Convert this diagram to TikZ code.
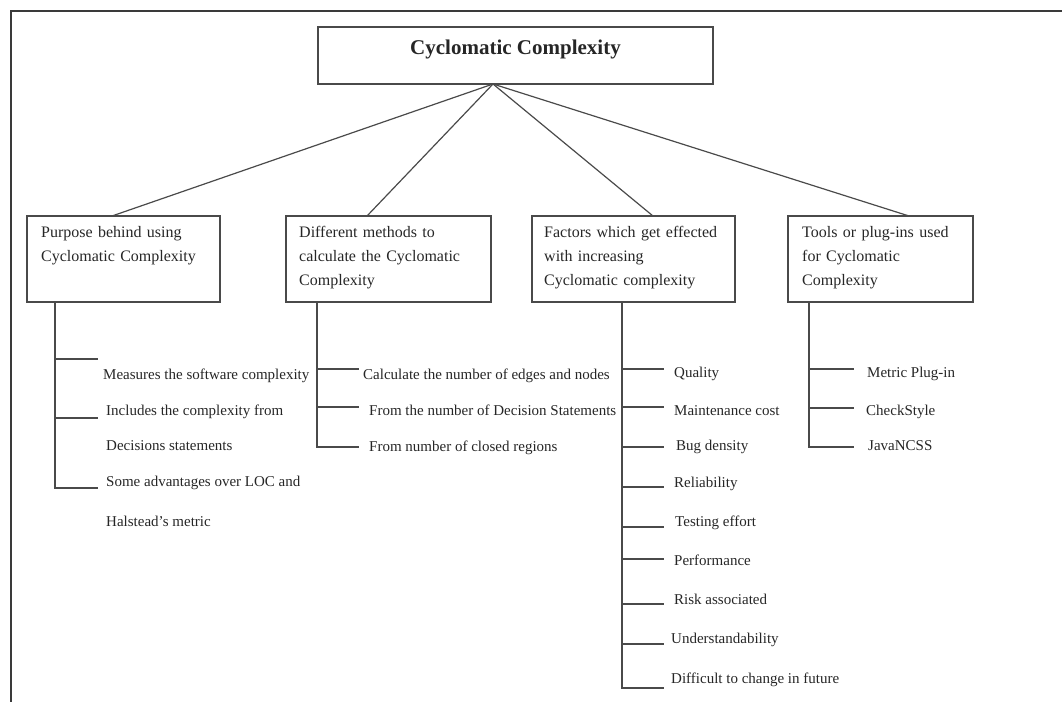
\documentclass[tikz,border=0pt]{standalone}
\usepackage{fontspec}
\setmainfont{Liberation Serif}
\usetikzlibrary{calc}
\definecolor{ln}{HTML}{4A4A4A}
\definecolor{fr}{HTML}{3A3A3A}
\definecolor{tx}{HTML}{262626}
\begin{document}
\begin{tikzpicture}[x=1pt,y=-1pt,
  frameline/.style={draw=fr,line width=2pt},
  catbox/.style={draw=ln,line width=1.4pt,rectangle,inner sep=0pt,outer sep=0pt,minimum height=86pt,anchor=north west},
  boxtext/.style={text=tx,inner sep=0pt,anchor=north west,align=left,text width=185pt,font=\fontsize{16}{24}\selectfont},
  item/.style={text=tx,inner sep=0pt,anchor=west,text height=10pt,text depth=3pt,font=\fontsize{15}{18}\selectfont},
  conn/.style={draw=ln,line width=1.2pt}]
\useasboundingbox (0,0) rectangle (1062,701);
% outer frame (cut off at right and bottom)
\draw[frameline] (11,710) -- (11,11) -- (1070,11);
% top box
\node[catbox,minimum width=395pt,minimum height=57pt] (top) at (318,27) {};
\node[text=tx,inner sep=0pt,anchor=base,font=\fontsize{21}{25}\selectfont\bfseries] (title) at ($(top.north)+(0,28)$) {Cyclomatic Complexity};
% category boxes
\node[catbox,minimum width=193pt] (b1) at (27,216) {};
\node[catbox,minimum width=205pt] (b2) at (286,216) {};
\node[catbox,minimum width=203pt] (b3) at (532,216) {};
\node[catbox,minimum width=185pt] (b4) at (788,216) {};
\node[boxtext] (b1t) at ($(b1.north west)+(14,4.7)$) {\strut Purpose behind using\\Cyclomatic Complexity};
\node[boxtext] (b2t) at ($(b2.north west)+(13,4.7)$) {\strut Different methods to\\calculate the Cyclomatic\\Complexity};
\node[boxtext] (b3t) at ($(b3.north west)+(12,4.7)$) {\strut Factors which get effected\\with increasing\\Cyclomatic complexity};
\node[boxtext] (b4t) at ($(b4.north west)+(14,4.7)$) {\strut Tools or plug-ins used\\for Cyclomatic\\Complexity};
% connectors from the top box
\coordinate (hub) at ($(top.south west)+(175,0)$);
\draw[conn] (hub) -- ($(b1.north west)+(85,0)$);
\draw[conn] (hub) -- ($(b2.north west)+(81,0)$);
\draw[conn] (hub) -- ($(b3.north west)+(121,0)$);
\draw[conn] (hub) -- ($(b4.north west)+(121,0)$);
% trunk and branch-end coordinates
\coordinate (tr1) at ($(b1.south west)+(28,0)$);
\coordinate (e1) at (98,302);
\coordinate (tr2) at ($(b2.south west)+(31,0)$);
\coordinate (e2) at (359,302);
\coordinate (tr3) at ($(b3.south west)+(90,0)$);
\coordinate (e3) at (664,302);
\coordinate (tr4) at ($(b4.south west)+(21,0)$);
\coordinate (e4) at (854,302);
% list 1
\node[item] (p1) at (103,376) {Measures the software complexity};
\node[item] (p2) at (106,412) {Includes the complexity from};
\node[item] (p3) at (106,447) {Decisions statements};
\node[item] (p4) at (106,483) {Some advantages over LOC and};
\node[item] (p5) at (106,523) {Halstead’s metric};
\draw[conn] (tr1) -- ($(p4.west -| tr1)+(0,5)$) -- ($(p4.west -| e1)+(0,5)$);
\draw[conn] ($(p1.west -| tr1)+(0,-17)$) -- ($(p1.west -| e1)+(0,-17)$);
\draw[conn] ($(p2.west -| tr1)+(0,6)$) -- ($(p2.west -| e1)+(0,6)$);
% list 2
\node[item] (m1) at (363,376) {Calculate the number of edges and nodes};
\node[item] (m2) at (369,412) {From the number of Decision Statements};
\node[item] (m3) at (369,448) {From number of closed regions};
\draw[conn] (tr2) -- ($(m3.west -| tr2)+(0,-1)$) -- ($(m3.west -| e2)+(0,-1)$);
\draw[conn] ($(m1.west -| tr2)+(0,-7)$) -- ($(m1.west -| e2)+(0,-7)$);
\draw[conn] ($(m2.west -| tr2)+(0,-5)$) -- ($(m2.west -| e2)+(0,-5)$);
% list 3
\node[item] (f1) at (674,374) {Quality};
\node[item] (f2) at (674,412) {Maintenance cost};
\node[item] (f3) at (676,447) {Bug density};
\node[item] (f4) at (674,484) {Reliability};
\node[item] (f5) at (675,523) {Testing effort};
\node[item] (f6) at (674,562) {Performance};
\node[item] (f7) at (674,601) {Risk associated};
\node[item] (f8) at (671,640) {Understandability};
\node[item] (f9) at (671,680) {Difficult to change in future};
\draw[conn] (tr3) -- ($(f9.west -| tr3)+(0,8)$) -- ($(f9.west -| e3)+(0,8)$);
\draw[conn] ($(f1.west -| tr3)+(0,-5)$) -- ($(f1.west -| e3)+(0,-5)$);
\draw[conn] ($(f2.west -| tr3)+(0,-5)$) -- ($(f2.west -| e3)+(0,-5)$);
\draw[conn] ($(f3.west -| tr3)+(0,0)$) -- ($(f3.west -| e3)+(0,0)$);
\draw[conn] ($(f4.west -| tr3)+(0,3)$) -- ($(f4.west -| e3)+(0,3)$);
\draw[conn] ($(f5.west -| tr3)+(0,4)$) -- ($(f5.west -| e3)+(0,4)$);
\draw[conn] ($(f6.west -| tr3)+(0,-3)$) -- ($(f6.west -| e3)+(0,-3)$);
\draw[conn] ($(f7.west -| tr3)+(0,3)$) -- ($(f7.west -| e3)+(0,3)$);
\draw[conn] ($(f8.west -| tr3)+(0,4)$) -- ($(f8.west -| e3)+(0,4)$);
% list 4
\node[item] (t1) at (867,374) {Metric Plug-in};
\node[item] (t2) at (866,412) {CheckStyle};
\node[item] (t3) at (868,447) {JavaNCSS};
\draw[conn] (tr4) -- ($(t3.west -| tr4)+(0,0)$) -- ($(t3.west -| e4)+(0,0)$);
\draw[conn] ($(t1.west -| tr4)+(0,-5)$) -- ($(t1.west -| e4)+(0,-5)$);
\draw[conn] ($(t2.west -| tr4)+(0,-4)$) -- ($(t2.west -| e4)+(0,-4)$);
\end{tikzpicture}
\end{document}
